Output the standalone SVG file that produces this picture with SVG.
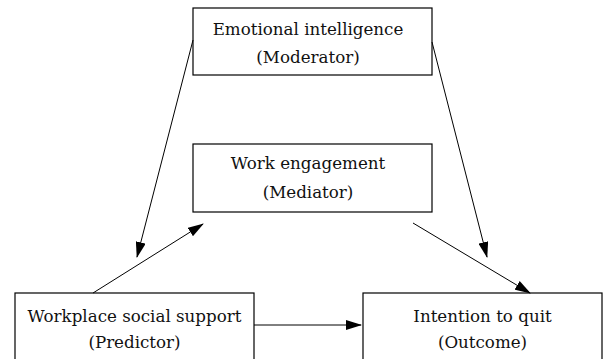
<svg xmlns="http://www.w3.org/2000/svg" width="604" height="359" viewBox="0 0 604 359">
<style>
.box{fill:#fff;stroke:#000;stroke-width:1.2}
.t{font-family:"DejaVu Serif","Liberation Serif",serif;font-size:16.7px;fill:#111;text-anchor:middle}
.c{stroke:#000;stroke-width:1;fill:none;marker-end:url(#ah)}
</style>
<defs>
<marker id="ah" markerWidth="16" markerHeight="10" refX="15" refY="5" orient="auto" markerUnits="userSpaceOnUse">
<path d="M0,0 L16,5 L0,10 Z" fill="#000"/>
</marker>
</defs>
<rect width="604" height="359" fill="#fff"/>
<g id="moderator">
<rect class="box" x="193" y="8" width="239" height="67"/>
<text class="t" x="308" y="35">Emotional intelligence</text>
<text class="t" x="308" y="63">(Moderator)</text>
</g>
<g id="mediator">
<rect class="box" x="193" y="144" width="239" height="68"/>
<text class="t" x="308" y="169">Work engagement</text>
<text class="t" x="308" y="198">(Mediator)</text>
</g>
<g id="predictor">
<rect class="box" x="15" y="293" width="239" height="70"/>
<text class="t" x="134.5" y="322">Workplace social support</text>
<text class="t" x="134.5" y="348">(Predictor)</text>
</g>
<g id="outcome">
<rect class="box" x="363" y="293" width="239" height="70"/>
<text class="t" x="482.5" y="322">Intention to quit</text>
<text class="t" x="482.5" y="348">(Outcome)</text>
</g>
<g id="connectors">
<line class="c" x1="193" y1="40" x2="137" y2="257"/>
<line class="c" x1="93" y1="293" x2="203" y2="224"/>
<line class="c" x1="432" y1="42" x2="487" y2="257"/>
<line class="c" x1="413" y1="223" x2="530" y2="293"/>
<line class="c" x1="254" y1="325" x2="361" y2="325"/>
</g>
</svg>
